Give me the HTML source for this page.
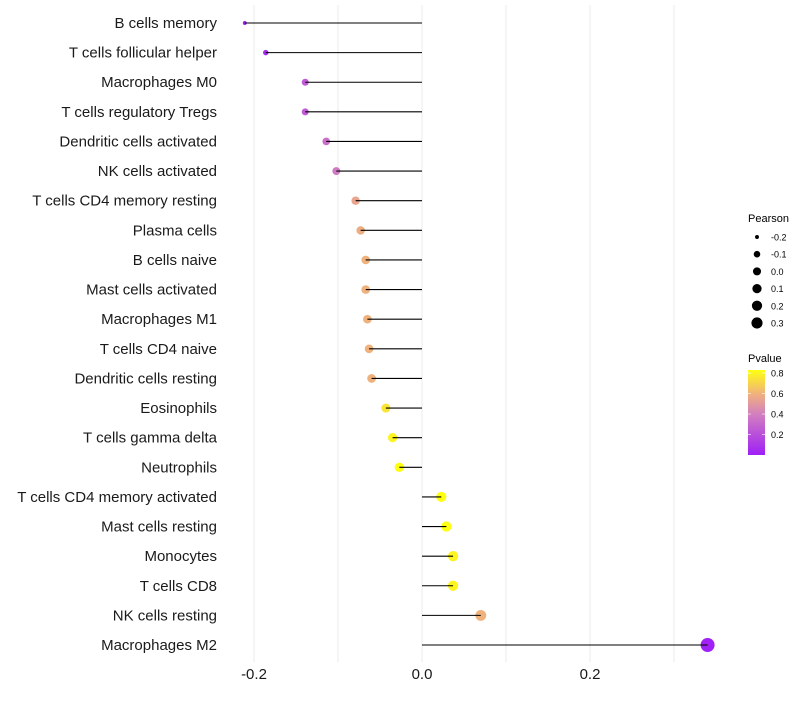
<!DOCTYPE html>
<html><head><meta charset="utf-8"><style>
body{margin:0;background:#fff;font-family:"Liberation Sans",sans-serif}
</style></head><body>
<svg id="c" width="800" height="700" xmlns="http://www.w3.org/2000/svg">
<defs><linearGradient id="pg" x1="0" y1="1" x2="0" y2="0">
<stop offset="0" stop-color="#9f1ff6"/><stop offset="0.48" stop-color="#d27fbf"/><stop offset="0.72" stop-color="#f0b27c"/><stop offset="1" stop-color="#ffff10"/></linearGradient></defs>
</svg>
<script>
const categories=["B cells memory","T cells follicular helper","Macrophages M0","T cells regulatory  Tregs","Dendritic cells activated","NK cells activated","T cells CD4 memory resting","Plasma cells","B cells naive","Mast cells activated","Macrophages M1","T cells CD4 naive","Dendritic cells resting","Eosinophils","T cells gamma delta","Neutrophils","T cells CD4 memory activated","Mast cells resting","Monocytes","T cells CD8","NK cells resting","Macrophages M2"];
const pearson=[-0.211,-0.186,-0.139,-0.139,-0.114,-0.102,-0.079,-0.073,-0.067,-0.067,-0.065,-0.063,-0.060,-0.043,-0.035,-0.027,0.023,0.029,0.037,0.037,0.070,0.340];
const pvalue=[0.01,0.05,0.25,0.25,0.33,0.38,0.55,0.58,0.6,0.6,0.6,0.6,0.6,0.75,0.8,0.85,0.9,0.85,0.8,0.8,0.6,0.005];
const xTicks=[-0.2,0,0.2];
const legendSizes=[-0.2,-0.1,0.0,0.1,0.2,0.3];
const legendP=[0.8,0.6,0.4,0.2];
const svg=document.getElementById('c');const NS='http://www.w3.org/2000/svg';
const X=v=>422+v*840;
const Y=i=>23+i*(622/21);
const R=v=>1.48+7.4*Math.sqrt(Math.max(0,v+0.215));
const stops=[[0,[159,31,246]],[0.4,[210,127,191]],[0.6,[240,178,124]],[0.83,[255,255,16]]];
function col(p){p=Math.max(0,Math.min(0.83,p));for(let k=0;k<stops.length-1;k++){const[a,ca]=stops[k],[b,cb]=stops[k+1];if(p<=b){const t=(p-a)/(b-a);return 'rgb('+ca.map((c,j)=>Math.round(c+(cb[j]-c)*t)).join(',')+')';}}return 'rgb(255,255,16)';}
function el(t,a,p){const e=document.createElementNS(NS,t);for(const k in a)e.setAttribute(k,a[k]);(p||svg).appendChild(e);return e;}
for(const v of [-0.2,-0.1,0,0.1,0.2,0.3]){const g=el('line',{x1:X(v),x2:X(v),y1:5,y2:662,stroke:'#ebebeb','stroke-width':1});

}
categories.forEach((c,i)=>{
const t=el('text',{x:217,y:Y(i)+5,'text-anchor':'end','font-size':15,fill:'#1a1a1a'});t.textContent=c;


const d=el('circle',{cx:X(pearson[i]),cy:Y(i),r:R(pearson[i]),fill:col(pvalue[i])});


const l=el('line',{x1:X(0),x2:X(pearson[i]),y1:Y(i),y2:Y(i),stroke:'#000','stroke-width':1.1});


});
xTicks.forEach(v=>{const t=el('text',{x:X(v),y:679,'text-anchor':'middle','font-size':15,fill:'#1a1a1a'});t.textContent=v==0?'0.0':v.toFixed(1);

});
const lt=el('text',{x:748,y:222,'font-size':11,fill:'#000'});lt.textContent='Pearson';


legendSizes.forEach((v,k)=>{const y=237+k*17.2;
const c=el('circle',{cx:757,cy:y,r:R(v)*0.82,fill:'#000'});


const t=el('text',{x:771,y:y+3.5,'font-size':9,fill:'#000'});t.textContent=v.toFixed(1);

});
const pt=el('text',{x:748,y:362,'font-size':11,fill:'#000'});pt.textContent='Pvalue';


const gb=el('rect',{x:748,y:370,width:17,height:85,fill:'url(#pg)'});


legendP.forEach(v=>{const y=455-v/0.83*85;
el('line',{x1:748,x2:751,y1:y,y2:y,stroke:'#fff','stroke-width':0.6});el('line',{x1:762,x2:765,y1:y,y2:y,stroke:'#fff','stroke-width':0.6});
const t=el('text',{x:771,y:y+3.5,'font-size':9,fill:'#000'});t.textContent=v.toFixed(1);

});
</script>
</body></html>
